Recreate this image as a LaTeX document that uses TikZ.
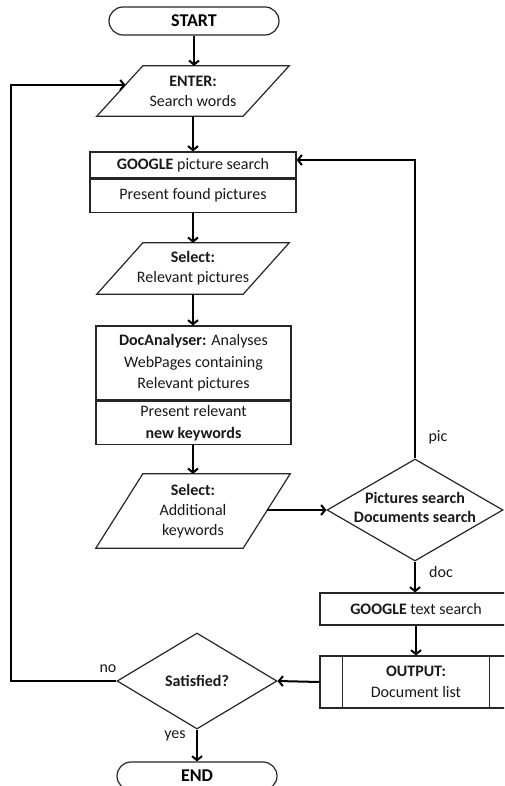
\documentclass[tikz,border=0pt]{standalone}
\usepackage{fontspec}
\setmainfont{Carlito}
\usetikzlibrary{shapes.geometric,shapes.misc,arrows.meta,calc}

% outline of an input/output parallelogram around a core rectangle node
\newcommand\paraoutline[2]{%
  \draw[shp] (#1.north west) -- ([xshift=#2]#1.north east) -- (#1.south east)
    -- ([xshift=-#2]#1.south west) -- cycle;}

\tikzset{
  shp/.style={draw=black!85, line width=1.2pt},
  conn/.style={draw=black, line width=2pt, -{Straight Barb[length=4pt,width=10pt]}},
  txt/.style={font=\fontsize{16}{19.5}\selectfont, align=center, inner sep=0pt, text=black!90},
  term/.style={shp, rounded rectangle, minimum width=#1, minimum height=28pt,
    font=\fontsize{18}{20}\selectfont\bfseries, inner sep=0pt},
  core/.style={rectangle, inner sep=0pt, minimum width=100pt},
  box/.style={shp, rectangle, txt},
  decision/.style={shp, diamond, inner sep=0pt, txt},
  lbl/.style={txt, font=\fontsize{16}{19}\selectfont}
}

\begin{document}
\begin{tikzpicture}[x=1pt,y=-1pt]
\useasboundingbox (0,0) rectangle (504,786);
\clip (0,0) rectangle (504,786);
\fill[white] (0,0) rectangle (504,786);

% terminal
\node[term=170pt] (start) at (194,21) {START};

% ENTER: search words
\node[core, minimum height=50pt] (enter) at (193,91) {};
\paraoutline{enter}{46pt}
\node[txt] (enter-txt) at (193,91.5) {\textbf{ENTER:}\\Search words};
\coordinate (enter-in) at (125.5,85);

% picture search box
\node[box, minimum width=206pt, minimum height=26pt] (gtop) at (193,165) {\textbf{GOOGLE} picture search};
\node[box, minimum width=206pt, minimum height=33pt, anchor=north] (gbot) at (gtop.south) {Present found pictures};

% select relevant pictures
\node[core, minimum height=51pt] (selpic) at (193,268.5) {};
\paraoutline{selpic}{46pt}
\node[txt] (selpic-txt) at (193,268) {\textbf{Select:}\\Relevant pictures};

% document analyser
\node[box, minimum width=195pt, minimum height=74pt, font=\fontsize{16}{21.5}\selectfont] (dtop) at (193.5,363)
  {\textbf{DocAnalyser:} Analyses\\WebPages containing\\Relevant pictures};
\node[box, minimum width=195pt, minimum height=43pt, anchor=north, font=\fontsize{16}{22}\selectfont] (dbot) at (dtop.south)
  {Present relevant\\\textbf{new keywords}};

% select additional keywords
\node[core, minimum height=74pt] (seladd) at (193,511) {};
\paraoutline{seladd}{47pt}
\node[txt, font=\fontsize{16}{20}\selectfont] (seladd-txt) at (193,511) {\textbf{Select:}\\Additional\\keywords};
\coordinate (seladd-out) at (267,510);

% search type decision
\node[decision, minimum width=176pt, minimum height=102pt] (psearch) at (415,510) {};
\node[txt, font=\fontsize{16}{19}\selectfont\bfseries] (psearch-txt) at (415,507) {Pictures search\\Documents search};

% text search and output
\node[box, minimum width=192pt, minimum height=32pt] (gtext) at (416,609) {\textbf{GOOGLE} text search};
\node[box, minimum width=192pt, minimum height=52pt, font=\fontsize{16}{21}\selectfont] (output) at (416,682) {\textbf{OUTPUT:}\\Document list};
\draw[shp] ([xshift=23pt]output.north west) -- ([xshift=23pt]output.south west);
\draw[shp] ([xshift=-23pt]output.north east) -- ([xshift=-23pt]output.south east);

% satisfied decision
\node[decision, minimum width=160pt, minimum height=96pt, font=\fontsize{16}{19}\selectfont\bfseries] (sat) at (197,681) {Satisfied?};

% terminal
\node[term=160pt] (end) at (197,776) {END};

% connectors
\draw[conn] (start.south) -- (start.south |- enter.north);
\draw[conn] (enter.south) -- (gtop.north);
\draw[conn] (gbot.south) -- (selpic.north);
\draw[conn] (selpic.south) -- (selpic.south |- dtop.north);
\draw[conn] (dbot.south -| seladd.north) -- (seladd.north);
\draw[conn] (seladd-out) -- (psearch.west);
\draw[conn] (psearch.north) |- ([yshift=5pt]gtop.east);
\draw[conn] (psearch.south) -- (psearch.south |- gtext.north);
\draw[conn] (gtext.south) -- (output.north);
\draw[conn] (output.west) -- (sat.east);
\draw[conn] (sat.west) -- ++(-105,0) |- (enter-in);
\draw[conn] (sat.south) -- (end.north);

% branch labels
\node[lbl] (l-pic) at (438,437) {pic};
\node[lbl] (l-doc) at (441,572) {doc};
\node[lbl] (l-no) at (108,669) {no};
\node[lbl] (l-yes) at (175,736) {yes};
\end{tikzpicture}
\end{document}
